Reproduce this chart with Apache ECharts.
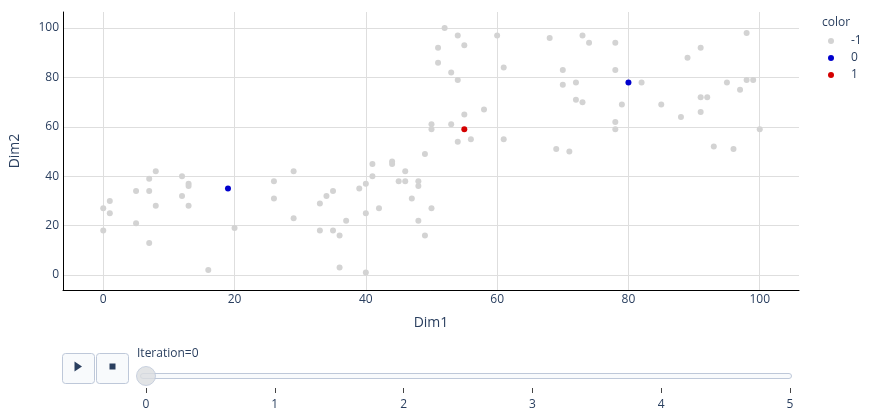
<!DOCTYPE html>
<html>
<head>
<meta charset="utf-8">
<script src="https://cdn.jsdelivr.net/npm/echarts@6/dist/echarts.min.js"></script>
<style>html,body{margin:0;padding:0;background:#fff;}#c{width:870px;height:420px;}</style>
</head>
<body>
<div id="c"></div>
<script>
// ---- data ----
var groupNames = ['-1', '0', '1'];
var groupColors = ['#d3d3d3', '#0000cd', '#d40000'];
var xMinus1 = [8,7,12,13,13,5,7,1,0,1,8,12,13,5,0,20,7,16,
  26,26,29,29,33,34,35,33,35,36,37,36,39,40,40,40,41,41,42,44,44,45,46,46,48,48,47,49,50,48,49,
  52,54,60,51,55,51,53,54,61,58,55,50,50,53,56,54,61,
  68,73,74,70,70,72,72,73,69,71,
  78,78,82,79,78,78,85,88,89,91,91,92,91,93,95,96,97,98,99,98,100];
var yMinus1 = [42,39,40,37,36,34,34,30,27,25,28,32,28,21,18,19,13,2,
  38,31,42,23,29,32,34,18,18,16,22,3,35,37,25,1,45,40,27,46,45,38,42,38,38,36,31,49,27,22,16,
  100,97,97,92,93,86,82,79,84,67,65,61,59,61,55,54,55,
  96,97,94,83,77,78,71,70,51,50,
  94,83,78,69,62,59,69,64,88,92,72,72,66,52,78,51,75,79,79,98,59];
var x0 = [19, 80];
var y0 = [35, 78];
var x1 = [55];
var y1 = [59];
var sliderSteps = [0, 1, 2, 3, 4, 5];
var currentStep = 0;

function pairs(xs, ys) { return xs.map(function (v, i) { return [v, ys[i]]; }); }
var groups = [pairs(xMinus1, yMinus1), pairs(x0, y0), pairs(x1, y1)];

var txt = '#2a3f5f';
var font = 'Open Sans';
var gridCol = '#dedede';

var series = groups.map(function (d, i) {
  return {
    name: groupNames[i], type: 'scatter', xAxisIndex: 0, yAxisIndex: 0,
    data: d, symbolSize: 6, itemStyle: { color: groupColors[i], opacity: 1 }, z: 3 + i
  };
});
series.push({
  name: 'knob', type: 'scatter', xAxisIndex: 1, yAxisIndex: 1,
  data: [[currentStep, 0.667]], symbolSize: 19,
  itemStyle: { color: '#dbdde0', borderColor: '#bec8d9', borderWidth: 1 }, z: 10, silent: true
});

var chart = echarts.init(document.getElementById('c'), null, { renderer: 'canvas' });
chart.setOption({
  animation: false,
  textStyle: { fontFamily: font },
  title: { text: 'color', left: 822, top: 17, padding: 0,
    textStyle: { fontSize: 12, fontWeight: 'normal', color: txt, fontFamily: font } },
  legend: {
    data: groupNames, orient: 'vertical', left: 828, top: 34, padding: 0,
    itemWidth: 6, itemHeight: 6, itemGap: 3, icon: 'circle',
    textStyle: { fontSize: 12, color: txt, fontFamily: font, lineHeight: 14, padding: [0, 0, 0, 12] }
  },
  grid: [
    { left: 62, top: 12, width: 737, height: 278, containLabel: false },
    { left: 146, top: 370, width: 644, height: 18, containLabel: false }
  ],
  xAxis: [
    { type: 'value', gridIndex: 0, min: -6.13, max: 105.98,
      name: 'Dim1', nameLocation: 'middle', nameGap: 26,
      nameTextStyle: { fontSize: 14, color: txt, fontFamily: font },
      axisLine: { show: true, onZero: false, lineStyle: { color: '#000', width: 1 } },
      axisTick: { show: false },
      axisLabel: { margin: 4, fontSize: 12, color: txt, fontFamily: font, showMinLabel: false, showMaxLabel: false,
        formatter: function (v) { return v % 20 === 0 ? String(v) : ''; } },
      splitLine: { show: true, showMinLine: false, showMaxLine: false, lineStyle: { color: gridCol, width: 1 } }
    },
    { type: 'value', gridIndex: 1, min: 0, max: 5, interval: 1,
      axisLine: { show: false },
      axisTick: { show: true, length: 5, lineStyle: { color: '#444', width: 1 } },
      axisLabel: { margin: 11, fontSize: 12, color: txt, fontFamily: font },
      splitLine: { show: false }
    }
  ],
  yAxis: [
    { type: 'value', gridIndex: 0, min: -6.07, max: 106.5,
      name: 'Dim2', nameLocation: 'middle', nameGap: 41,
      nameTextStyle: { fontSize: 14, color: txt, fontFamily: font },
      axisLine: { show: true, onZero: false, lineStyle: { color: '#000', width: 1 } },
      axisTick: { show: false },
      axisLabel: { margin: 4, fontSize: 12, color: txt, fontFamily: font, showMinLabel: false, showMaxLabel: false,
        formatter: function (v) { return v % 20 === 0 ? String(v) : ''; } },
      splitLine: { show: true, showMinLine: false, showMaxLine: false, lineStyle: { color: gridCol, width: 1 } }
    },
    { type: 'value', gridIndex: 1, min: 0, max: 1, show: false }
  ],
  graphic: [
    { type: 'rect', silent: true, z: 0, shape: { x: 62.5, y: 353.5, width: 32, height: 30, r: 3 },
      style: { fill: '#f8fafc', stroke: '#bec8d9', lineWidth: 1 } },
    { type: 'rect', silent: true, z: 0, shape: { x: 96.5, y: 353.5, width: 32, height: 30, r: 3 },
      style: { fill: '#f8fafc', stroke: '#bec8d9', lineWidth: 1 } },
    { type: 'polygon', silent: true, z: 1, shape: { points: [[74.5, 361.5], [82, 366.5], [74.5, 371.5]] },
      style: { fill: txt } },
    { type: 'rect', silent: true, z: 1, shape: { x: 109.5, y: 363.5, width: 6, height: 6 },
      style: { fill: txt } },
    { type: 'rect', silent: true, z: 0, shape: { x: 140.5, y: 373.5, width: 651, height: 5, r: 2.5 },
      style: { fill: '#f8fafc', stroke: '#bec8d9', lineWidth: 1 } },
    { type: 'text', silent: true, z: 1, x: 137, y: 354,
      style: { text: 'Iteration=' + currentStep, fill: txt, fontSize: 12, fontFamily: font, verticalAlign: 'middle', align: 'left' } }
  ],
  series: series
});
</script>
</body>
</html>
